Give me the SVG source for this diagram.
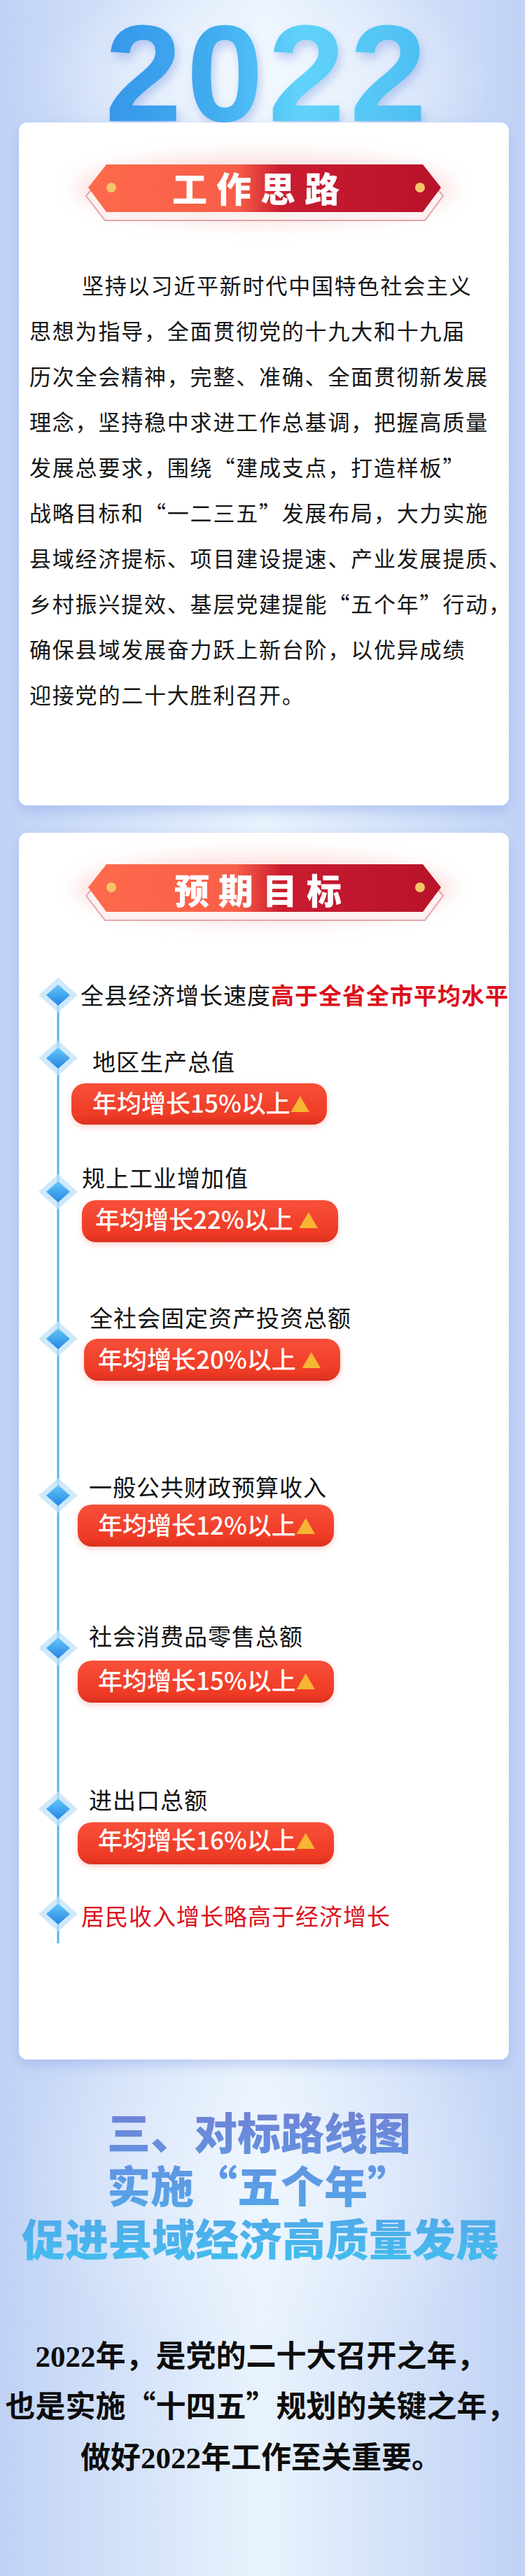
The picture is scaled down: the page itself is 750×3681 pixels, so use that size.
<svg xmlns="http://www.w3.org/2000/svg" xmlns:xlink="http://www.w3.org/1999/xlink" width="750" height="3681" viewBox="0 0 750 3681">
<defs>
<linearGradient id="bg" x1="0" y1="0" x2="1" y2="0">
<stop offset="0" stop-color="#c0d2f5"/><stop offset="0.5" stop-color="#e9f3fd"/><stop offset="1" stop-color="#c0d2f5"/>
</linearGradient>
<radialGradient id="topGlow" cx="0.5" cy="0.5" r="0.5">
<stop offset="0" stop-color="#f4f9ff" stop-opacity="0.9"/><stop offset="1" stop-color="#f4f9ff" stop-opacity="0"/>
</radialGradient>
<linearGradient id="digits" x1="0" y1="0" x2="1" y2="0">
<stop offset="0" stop-color="#3596e8"/><stop offset="0.35" stop-color="#43aef0"/><stop offset="0.6" stop-color="#60d3fb"/><stop offset="1" stop-color="#4cbdf1"/>
</linearGradient>
<linearGradient id="banner" x1="0" y1="0" x2="1" y2="0">
<stop offset="0" stop-color="#fe6a4c"/><stop offset="0.42" stop-color="#f85e48"/><stop offset="0.55" stop-color="#c91c30"/><stop offset="1" stop-color="#b8122b"/>
</linearGradient>
<linearGradient id="pill" x1="0" y1="0" x2="0" y2="1">
<stop offset="0" stop-color="#f8503a"/><stop offset="0.8" stop-color="#ee3a25"/><stop offset="1" stop-color="#d9301f"/>
</linearGradient>
<linearGradient id="diaGrad" x1="0" y1="0" x2="0" y2="1">
<stop offset="0" stop-color="#63c8f8"/><stop offset="1" stop-color="#2584e4"/>
</linearGradient>
<linearGradient id="title3" gradientUnits="userSpaceOnUse" x1="0" y1="3020" x2="0" y2="3232">
<stop offset="0" stop-color="#7083d6"/><stop offset="0.5" stop-color="#5b9de5"/><stop offset="1" stop-color="#42bdef"/>
</linearGradient>
<filter id="cardShadow" x="-10%" y="-10%" width="120%" height="120%">
<feDropShadow dx="0" dy="8" stdDeviation="9" flood-color="#86a2e6" flood-opacity="0.45"/>
</filter>
<filter id="digitShadow" x="-10%" y="-20%" width="120%" height="150%">
<feDropShadow dx="4" dy="8" stdDeviation="7" flood-color="#5f86dc" flood-opacity="0.35"/>
</filter>
<filter id="glow" x="-30%" y="-100%" width="160%" height="300%">
<feGaussianBlur stdDeviation="14"/>
</filter>
<filter id="pillShadow" x="-10%" y="-20%" width="120%" height="160%">
<feDropShadow dx="0" dy="3" stdDeviation="4" flood-color="#f07a6a" flood-opacity="0.35"/>
</filter>
<g id="dia">
<polygon points="0,-25 28,0 0,25 -28,0" fill="#bfe2fa" fill-opacity="0.75"/>
<polygon points="0,-15 17,0 0,15 -17,0" fill="url(#diaGrad)"/>
</g>
<g id="bannerShape">
<ellipse cx="378" cy="270" rx="270" ry="48" fill="#f6a3a0" opacity="0.35" filter="url(#glow)"/>
<polygon points="123,280 150,315 607,315 633,280 607,248 150,248" fill="#fdf1f1" stroke="#e3a6a9" stroke-width="2"/>
<polygon points="126,268 152,235 604,235 630,268 604,303 152,303" fill="url(#banner)"/>
<circle cx="159" cy="268" r="7" fill="#f6c468"/>
<circle cx="600" cy="268" r="7" fill="#f6c468"/>
</g>
</defs>
<style>
.para{font-family:"Noto Sans CJK SC","Noto Sans CJK JP",sans-serif;font-size:31px;letter-spacing:1.8px;fill:#151515}
.bannerTxt{font-family:"Noto Sans CJK SC",sans-serif;font-size:50px;font-weight:900;fill:#ffffff;letter-spacing:13px}
.item{font-family:"Noto Sans CJK SC",sans-serif;font-size:33px;letter-spacing:1px;fill:#111111}
.red{fill:#dc0f1c}
.pillTxt{font-family:"Noto Sans CJK SC",sans-serif;font-size:35px;font-weight:500;fill:#ffffff}
.tri{fill:#f7b532;font-size:28px}
.big{font-family:"Noto Sans CJK SC",sans-serif;font-size:62px;font-weight:900;fill:url(#title3)}
.closing{font-family:"Noto Sans CJK SC",sans-serif;font-size:43px;font-weight:700;fill:#0d0d0d}
.num{font-family:"Liberation Serif",serif}
</style>

<rect x="0" y="0" width="750" height="3681" fill="url(#bg)"/>
<ellipse cx="375" cy="110" rx="330" ry="150" fill="url(#topGlow)"/>
<ellipse cx="375" cy="3120" rx="360" ry="260" fill="url(#topGlow)" opacity="0.6"/>

<g id="year-title">
<text x="150" y="173" font-family="Liberation Sans, Arial, sans-serif" font-size="197" font-weight="700" letter-spacing="7" fill="url(#digits)" filter="url(#digitShadow)">2022</text>
</g>

<g id="card-thinking">
<rect x="27" y="175" width="700" height="976" rx="12" fill="#ffffff" filter="url(#cardShadow)"/>
<use href="#bannerShape"/>
<text class="bannerTxt" x="246" y="289">工作思路</text>
<text class="para" x="117" y="420">坚持以习近平新时代中国特色社会主义</text>
<text class="para" x="42" y="485">思想为指导，全面贯彻党的十九大和十九届</text>
<text class="para" x="42" y="550">历次全会精神，完整、准确、全面贯彻新发展</text>
<text class="para" x="42" y="615">理念，坚持稳中求进工作总基调，把握高质量</text>
<text class="para" x="42" y="680">发展总要求，围绕“建成支点，打造样板”</text>
<text class="para" x="42" y="745">战略目标和“一二三五”发展布局，大力实施</text>
<text class="para" x="42" y="810">县域经济提标、项目建设提速、产业发展提质、</text>
<text class="para" x="42" y="875">乡村振兴提效、基层党建提能“五个年”行动，</text>
<text class="para" x="42" y="940">确保县域发展奋力跃上新台阶，以优异成绩</text>
<text class="para" x="42" y="1005">迎接党的二十大胜利召开。</text>
</g>

<g id="card-goals">
<rect x="27" y="1190" width="700" height="1753" rx="12" fill="#ffffff" filter="url(#cardShadow)"/>
<use href="#bannerShape" y="1000"/>
<text class="bannerTxt" x="249" y="1292">预期目标</text>
</g>

<g id="connectors">
<line x1="83" y1="1422" x2="83" y2="2777" stroke="#58b3e7" stroke-width="3"/>
</g>

<g id="goal-1">
<use href="#dia" x="83" y="1422"/>
<text class="item" x="115" y="1435" letter-spacing="0.2"><tspan>全县经济增长速度</tspan><tspan class="red" font-weight="700">高于全省全市平均水平</tspan></text>
</g>

<g id="goal-2">
<use href="#dia" x="83" y="1512"/>
<text class="item" x="132" y="1530">地区生产总值</text>
<rect x="102" y="1548" width="365" height="59" rx="20" fill="url(#pill)" filter="url(#pillShadow)"/>
<text class="pillTxt" x="132" y="1590">年均增长15%以上<tspan class="tri">▲</tspan></text>
</g>

<g id="goal-3">
<use href="#dia" x="83" y="1703"/>
<text class="item" x="117" y="1696">规上工业增加值</text>
<rect x="117" y="1715" width="366" height="60" rx="20" fill="url(#pill)" filter="url(#pillShadow)"/>
<text class="pillTxt" x="136" y="1756">年均增长22%以上 <tspan class="tri">▲</tspan></text>
</g>

<g id="goal-4">
<use href="#dia" x="83" y="1913"/>
<text class="item" x="128" y="1896">全社会固定资产投资总额</text>
<rect x="120" y="1913" width="366" height="60" rx="20" fill="url(#pill)" filter="url(#pillShadow)"/>
<text class="pillTxt" x="140" y="1956">年均增长20%以上 <tspan class="tri">▲</tspan></text>
</g>

<g id="goal-5">
<use href="#dia" x="83" y="2137"/>
<text class="item" x="127" y="2138">一般公共财政预算收入</text>
<rect x="111" y="2150" width="366" height="60" rx="20" fill="url(#pill)" filter="url(#pillShadow)"/>
<text class="pillTxt" x="140" y="2193">年均增长12%以上<tspan class="tri">▲</tspan></text>
</g>

<g id="goal-6">
<use href="#dia" x="83" y="2355"/>
<text class="item" x="127" y="2351">社会消费品零售总额</text>
<rect x="111" y="2373" width="366" height="60" rx="20" fill="url(#pill)" filter="url(#pillShadow)"/>
<text class="pillTxt" x="140" y="2415">年均增长15%以上<tspan class="tri">▲</tspan></text>
</g>

<g id="goal-7">
<use href="#dia" x="83" y="2585"/>
<text class="item" x="127" y="2585">进出口总额</text>
<rect x="111" y="2604" width="366" height="60" rx="20" fill="url(#pill)" filter="url(#pillShadow)"/>
<text class="pillTxt" x="140" y="2643">年均增长16%以上<tspan class="tri">▲</tspan></text>
</g>

<g id="goal-8">
<use href="#dia" x="83" y="2735"/>
<text class="item red" x="116" y="2751" letter-spacing="0">居民收入增长略高于经济增长</text>
</g>

<g id="section-three">
<text class="big" x="153" y="3072">三、对标路线图</text>
<text class="big" x="153" y="3148">实施“五个年”</text>
<text class="big" x="31" y="3224">促进县域经济高质量发展</text>
</g>

<g id="closing">
<text class="closing" x="373" y="3382" text-anchor="middle"><tspan class="num">2022</tspan>年，是党的二十大召开之年，</text>
<text class="closing" x="373" y="3454" text-anchor="middle">也是实施“十四五”规划的关键之年，</text>
<text class="closing" x="373" y="3527" text-anchor="middle">做好<tspan class="num">2022</tspan>年工作至关重要。</text>
</g>
</svg>
